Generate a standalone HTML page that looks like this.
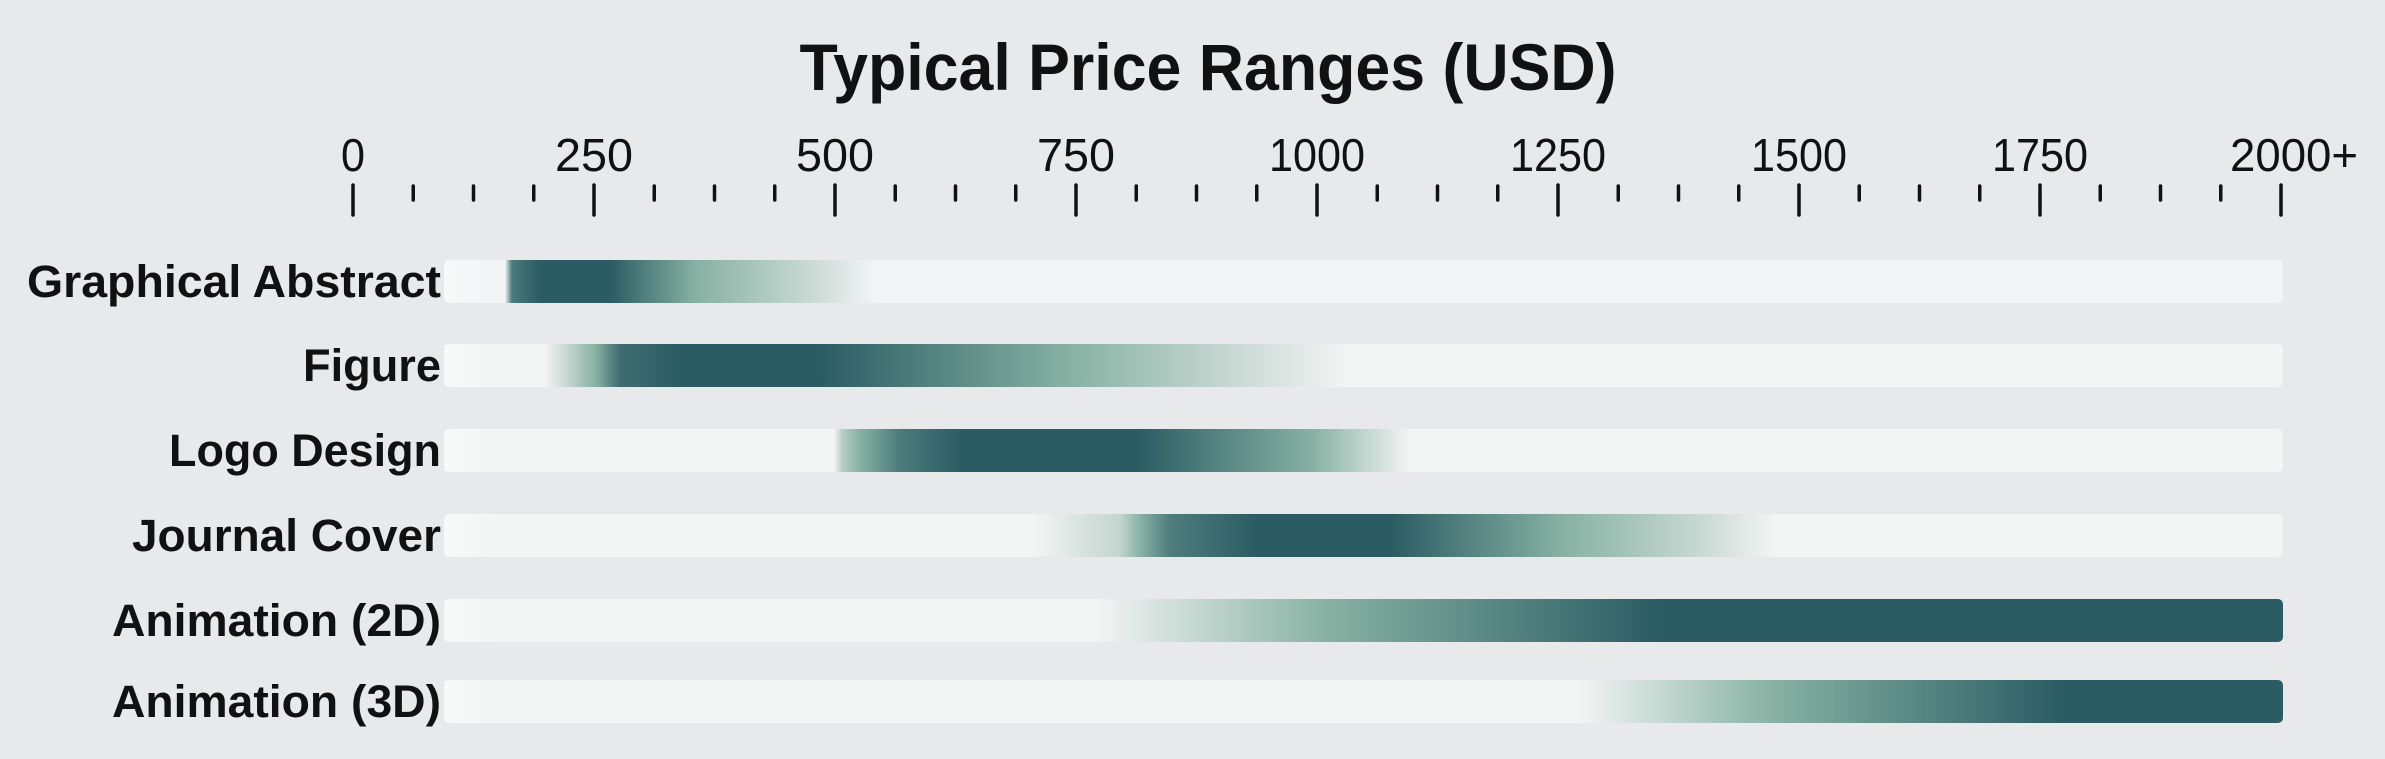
<!DOCTYPE html>
<html><head><meta charset="utf-8"><style>
html,body{margin:0;padding:0;background:#e8e9eb;}
svg{display:block;}
</style></head><body>
<svg width="2385" height="759" viewBox="0 0 2385 759" xmlns="http://www.w3.org/2000/svg" font-family="Liberation Sans, sans-serif">
<defs></defs>
<rect width="2385" height="759" fill="#e8e9eb"/>
<text x="1208" y="90" text-anchor="middle" font-size="66" font-weight="bold" fill="#111" textLength="817" lengthAdjust="spacingAndGlyphs">Typical Price Ranges (USD)</text>
<g id="ticks" stroke="#111" stroke-width="3.5" stroke-linecap="round"></g>
<g id="ticklabels" font-size="46" fill="#111"></g>
<g id="bars"></g>
<g id="labels" font-size="45" font-weight="bold" fill="#111" text-anchor="end"></g>
</svg>
<script>
var NS="http://www.w3.org/2000/svg";
function el(t,a,p){var e=document.createElementNS(NS,t);for(var k in a)e.setAttribute(k,a[k]);p.appendChild(e);return e;}
var x0=353,sc=0.964;
var tk=document.getElementById('ticks');
for(var i=0;i<=32;i++){var v=i*62.5,x=x0+v*sc;var maj=i%4==0;
el('line',{x1:x,x2:x,y1:maj?185:186,y2:maj?215:200},tk);}
var tl=document.getElementById('ticklabels');
var labs=['0','250','500','750','1000','1250','1500','1750','2000+'];
for(var i=0;i<labs.length;i++){var x=x0+i*250*sc;var s=labs[i];
var w=s.length==1?24:s.length==3?78:s.length==4?96:128;
if(s=='2000+')x=2294;
var t=el('text',{x:x-w/2,y:171,textLength:w,lengthAdjust:'spacingAndGlyphs'},tl);t.textContent=s;}
var D='#2b5c63',G='#86b1a2',L='#f3f4f4',W='#f8f9f9';
var rows=[
['Graphical Abstract',260,414,[[444,W],[490,'#f3f4f6'],[505,'#f3f4f6'],[512,'#4a7a7a'],[540,D],[610,D],[695,G],[800,'#c3d5cf'],[877,'#f3f4f6']]],
['Figure',344,138,[[444,W],[500,L],[545,L],[575,'#b5ccc4'],[596,G],[620,'#3f6c70'],[681,D],[821,D],[1067,G],[1250,'#cfdcd8'],[1347,L]]],
['Logo Design',429,272,[[444,W],[500,L],[834,L],[842,'#b8cec6'],[860,G],[900,'#4c7b7b'],[961,D],[1137,D],[1312,G],[1410,L]]],
['Journal Cover',514,309,[[444,W],[500,L],[1034,L],[1120,'#c3d5cf'],[1141,G],[1170,'#4f7d7d'],[1257,D],[1391,D],[1561,G],[1700,'#c8d8d3'],[1775,L]]],
['Animation (2D)',599,329,[[444,W],[500,L],[1096,L],[1329,G],[1659,D],[2283,D]]],
['Animation (3D)',680,329,[[444,W],[500,L],[1579,L],[1775,G],[2061,D],[2283,D]]]
];
var defs=document.querySelector('defs'),bars=document.getElementById('bars'),lg=document.getElementById('labels');
rows.forEach(function(r,i){
var g=el('linearGradient',{id:'r'+i,gradientUnits:'userSpaceOnUse',x1:444,x2:2283,y1:0,y2:0},defs);
r[3].forEach(function(s){var o=Math.max(0,(s[0]-444))/1839;el('stop',{offset:o,'stop-color':s[1]},g);});
el('rect',{x:444,y:r[1],width:1839,height:43,rx:5,fill:'url(#r'+i+')'},bars);
var t=el('text',{x:441,y:r[1]+37,textLength:r[2],lengthAdjust:'spacingAndGlyphs'},lg);t.textContent=r[0];
});
</script>
</body></html>
